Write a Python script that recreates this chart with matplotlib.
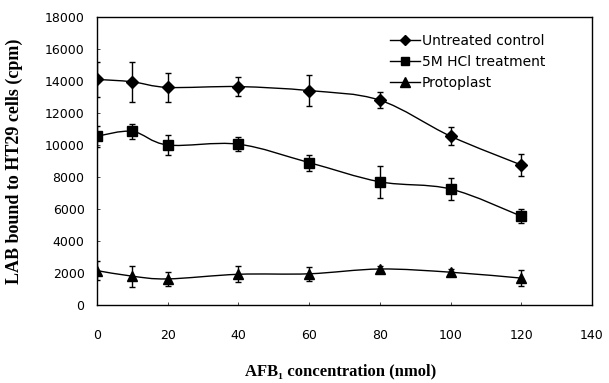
import matplotlib
matplotlib.use("Agg")
import matplotlib.pyplot as plt
from matplotlib.path import Path
from matplotlib.patches import PathPatch
from matplotlib.lines import Line2D
import numpy as np

plt.rcParams['font.family'] = ['DejaVu Sans']

concentration = [0, 10, 20, 40, 60, 80, 100, 120]
untreated = [14100, 13950, 13600, 13650, 13400, 12800, 10550, 8750]
untreated_err = [1100, 1250, 900, 580, 950, 500, 550, 700]
hcl = [10550, 10850, 10000, 10050, 8900, 7700, 7250, 5550]
hcl_err = [650, 450, 620, 450, 500, 1000, 700, 450]
proto = [2150, 1800, 1630, 1920, 1950, 2250, 2050, 1680]
proto_err = [600, 650, 450, 500, 450, 200, 200, 500]

labels = ['Untreated control', '5M HCl treatment', 'Protoplast']
markers = ['D', 's', '^']
msizes = [5.8, 7.2, 7.8]
legend_ms = [5, 6, 6.5]
series = [(untreated, untreated_err), (hcl, hcl_err), (proto, proto_err)]

fig = plt.figure(figsize=(6.09, 3.83), dpi=100)
ax = fig.add_axes([97/609, 1-305/383, (592-97)/609, (305-17)/383])


def smooth_path(xs, ys):
    pts = np.column_stack([xs, ys]).astype(float)
    n = len(pts)
    verts = [pts[0]]
    codes = [Path.MOVETO]
    for i in range(n - 1):
        p0 = pts[i - 1] if i > 0 else pts[i]
        p1 = pts[i]
        p2 = pts[i + 1]
        p3 = pts[i + 2] if i + 2 < n else pts[i + 1]
        c1 = p1 + (p2 - p0) / 6.0
        c2 = p2 - (p3 - p1) / 6.0
        verts += [c1, c2, p2]
        codes += [Path.CURVE4] * 3
    return Path(verts, codes)


handles = []
for (vals, errs), lab, mk, ms, lms in zip(series, labels, markers, msizes, legend_ms):
    ax.add_patch(PathPatch(smooth_path(concentration, vals), fill=False,
                           edgecolor='black', lw=1.0, zorder=2))
    ax.errorbar(concentration, vals, yerr=errs, fmt='none', ecolor='black',
                elinewidth=1.0, capsize=2.5, capthick=1.0, zorder=3)
    ax.plot(concentration, vals, linestyle='none', marker=mk, ms=ms,
            color='black', zorder=4)
    handles.append(Line2D([], [], color='black', lw=1.0, marker=mk, ms=lms))

ax.set_xlim(0, 140)
ax.set_ylim(0, 18000)
ax.set_xticks(range(0, 141, 20))
ax.set_yticks(range(0, 18001, 2000))
ax.tick_params(axis='both', direction='in', length=2, width=0.5, labelsize=9)
ax.tick_params(axis='x', pad=17)
ax.tick_params(axis='y', pad=9)
for s in ax.spines.values():
    s.set_linewidth(1.0)

ax.set_xlabel('AFB\u2081 concentration (nmol)', fontfamily=['Liberation Serif', 'DejaVu Serif'],
              fontweight='bold', fontsize=12, va='center')
ax.xaxis.set_label_coords(0.493, -0.229)
ax.set_ylabel('LAB bound to HT29 cells (cpm)', fontfamily=['Liberation Serif', 'DejaVu Serif'],
              fontweight='bold', fontsize=13, va='center', ha='center')
ax.yaxis.set_label_coords(-0.166, 0.5)

ax.legend(handles, labels, loc='upper left', bbox_to_anchor=(0.592, 0.94),
          frameon=False, fontsize=10, handlelength=2.15, handletextpad=0.15,
          labelspacing=0.5, borderaxespad=0, borderpad=0)

fig.savefig('out.png', dpi=100)
